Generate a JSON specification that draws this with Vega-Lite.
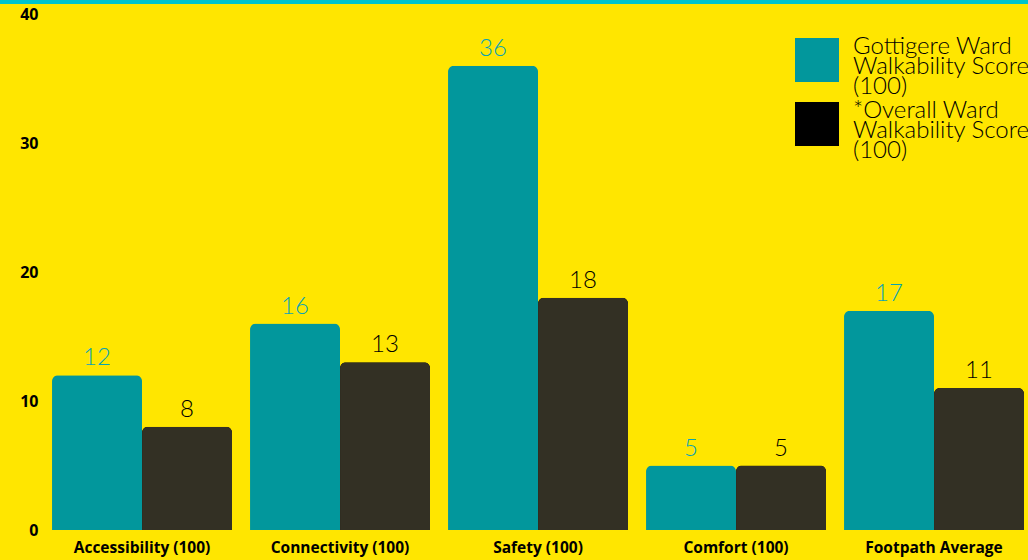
{
  "$schema": "https://vega.github.io/schema/vega-lite/v6.json",
  "width": 1028,
  "height": 530,
  "autosize": {"type": "none"},
  "padding": {"left": 0, "top": 0, "right": 0, "bottom": 30},
  "background": "#FFE600",
  "config": {"view": {"stroke": null}},
  "datasets": {
    "scores": [
      {"category": "Accessibility (100)", "series": "Gottigere Ward Walkability Score (100)", "value": 12},
      {"category": "Accessibility (100)", "series": "*Overall Ward Walkability Score (100)", "value": 8},
      {"category": "Connectivity (100)", "series": "Gottigere Ward Walkability Score (100)", "value": 16},
      {"category": "Connectivity (100)", "series": "*Overall Ward Walkability Score (100)", "value": 13},
      {"category": "Safety (100)", "series": "Gottigere Ward Walkability Score (100)", "value": 36},
      {"category": "Safety (100)", "series": "*Overall Ward Walkability Score (100)", "value": 18},
      {"category": "Comfort (100)", "series": "Gottigere Ward Walkability Score (100)", "value": 5},
      {"category": "Comfort (100)", "series": "*Overall Ward Walkability Score (100)", "value": 5},
      {"category": "Footpath Average", "series": "Gottigere Ward Walkability Score (100)", "value": 17},
      {"category": "Footpath Average", "series": "*Overall Ward Walkability Score (100)", "value": 11}
    ],
    "strip": [{"top": 41.09, "bottom": 40.78}]
  },
  "layer": [
    {
      "data": {"name": "scores"},
      "mark": {"type": "bar", "cornerRadiusTopLeft": 6, "cornerRadiusTopRight": 6},
      "encoding": {
        "x": {
          "field": "category", "type": "nominal", "sort": null,
          "scale": {"paddingInner": 0.0909, "paddingOuter": 0.1414, "align": 0.929},
          "axis": {"labelAngle": 0, "ticks": false, "domain": false, "title": null, "labelPadding": 10,
                   "labelFont": "Open Sans", "labelFontWeight": "bold", "labelFontSize": 15.5, "labelColor": "#000000"}
        },
        "xOffset": {"field": "series", "type": "nominal", "sort": null, "scale": {"paddingInner": 0, "paddingOuter": 0}},
        "y": {
          "field": "value", "type": "quantitative",
          "scale": {"domain": [0, 41.09], "nice": false, "zero": true},
          "axis": {"values": [0, 10, 20, 30, 40], "ticks": false, "domain": false, "grid": false, "title": null,
                   "offset": -38, "labelPadding": 0, "labelFont": "Open Sans", "labelFontWeight": "bold",
                   "labelFontSize": 16, "labelColor": "#000000"}
        },
        "color": {
          "field": "series", "type": "nominal", "sort": null,
          "scale": {"domain": ["Gottigere Ward Walkability Score (100)", "*Overall Ward Walkability Score (100)"], "range": ["#02979C", "#000000"]},
          "legend": {
            "orient": "none", "legendX": 795, "legendY": 38, "title": null,
            "symbolType": "square", "symbolSize": 1936, "symbolStrokeWidth": 0,
            "labelFont": "Lato", "labelFontWeight": 300, "labelFontSize": 24, "labelColor": "#000000",
            "labelLimit": 0, "labelOffset": 14, "rowPadding": 0,
            "labelExpr": "datum.label == 'Gottigere Ward Walkability Score (100)' ? ['Gottigere Ward', 'Walkability Score', '(100)'] : ['*Overall Ward', 'Walkability Score', '(100)']",
            "encode": {
              "labels": {"update": {"lineHeight": {"value": 20}, "dy": {"value": -13}}}
            }
          }
        }
      }
    },
    {
      "data": {"name": "scores"},
      "transform": [{"filter": "datum.series == '*Overall Ward Walkability Score (100)'"}],
      "mark": {"type": "bar", "color": "#333024", "cornerRadiusTopLeft": 6, "cornerRadiusTopRight": 6},
      "encoding": {
        "x": {"field": "category", "type": "nominal", "sort": null},
        "xOffset": {"field": "series", "type": "nominal", "sort": null},
        "y": {"field": "value", "type": "quantitative"}
      }
    },
    {
      "data": {"name": "scores"},
      "mark": {"type": "text", "baseline": "alphabetic", "dy": -10, "font": "Lato", "fontWeight": 300, "fontSize": 24},
      "encoding": {
        "x": {"field": "category", "type": "nominal", "sort": null},
        "xOffset": {"field": "series", "type": "nominal", "sort": null},
        "y": {"field": "value", "type": "quantitative"},
        "text": {"field": "value", "type": "quantitative"},
        "fill": {"condition": {"test": "datum.series == 'Gottigere Ward Walkability Score (100)'", "value": "#0AA3B5"}, "value": "#000000"}
      }
    },
    {
      "data": {"name": "strip"},
      "mark": {"type": "rect", "color": "#00C4CC"},
      "encoding": {
        "y": {"field": "top", "type": "quantitative"},
        "y2": {"field": "bottom"}
      }
    }
  ]
}
